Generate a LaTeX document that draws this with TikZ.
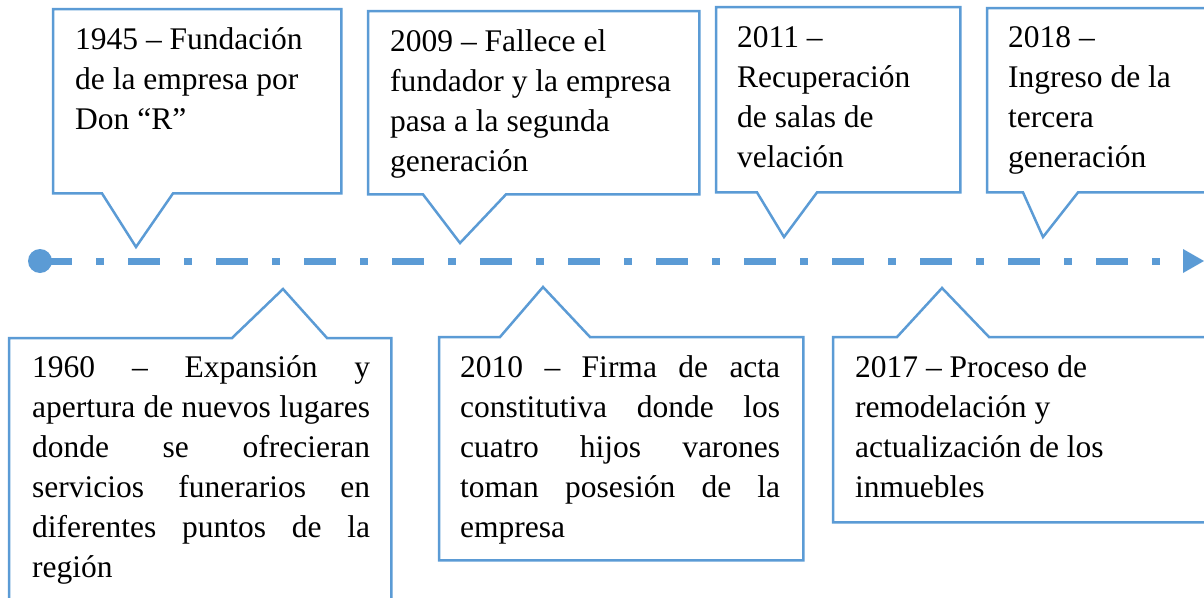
\documentclass[tikz,border=0pt]{standalone}
\usepackage{fontspec}
\setmainfont{Liberation Serif}
\usetikzlibrary{arrows.meta}
\definecolor{lineblue}{HTML}{5B9BD5}

\tikzstyle{frame} = [rectangle, inner sep=0pt, anchor=north west]
\tikzstyle{callout} = [draw=lineblue, line width=2.5pt, line join=miter]
\tikzstyle{entry} = [inner sep=0pt, anchor=base west, font=\fontsize{31.5}{40}\selectfont]
\tikzstyle{timeline} = [draw=lineblue, line width=7pt, dash pattern=on 32pt off 24pt on 8pt off 24pt, -{Triangle[length=21pt,width=24pt,line width=0pt]}]

\begin{document}
\begin{tikzpicture}[x=1pt, y=-1pt]
        \useasboundingbox (0,0) rectangle (1204,597);
        % time line
        \node[circle, fill=lineblue, minimum size=24pt, inner sep=0pt] (origin) at (40,261) {};
        \coordinate (finish) at (1204,261);
        \draw[timeline] (origin.center) -- (finish);
        % boxes above
        \node[frame, minimum width=288pt, minimum height=184pt] (b1945) at (53,9) {};
        \node[frame, minimum width=331pt, minimum height=183pt] (b2009) at (368,11) {};
        \node[frame, minimum width=244pt, minimum height=185pt] (b2011) at (716,7) {};
        \node[frame, minimum width=240pt, minimum height=184pt] (b2018) at (987,8) {};
        \coordinate (p1945) at (136,247);
        \coordinate (p2009) at (460,243);
        \coordinate (p2011) at (784,237);
        \coordinate (p2018) at (1043,237);
        \draw[callout] (b1945.south west) -- (b1945.north west) -- (b1945.north east) -- (b1945.south east) -- ([xshift=120pt]b1945.south west) -- (p1945) -- ([xshift=49pt]b1945.south west) -- cycle;
        \draw[callout] (b2009.south west) -- (b2009.north west) -- (b2009.north east) -- (b2009.south east) -- ([xshift=138pt]b2009.south west) -- (p2009) -- ([xshift=55pt]b2009.south west) -- cycle;
        \draw[callout] (b2011.south west) -- (b2011.north west) -- (b2011.north east) -- (b2011.south east) -- ([xshift=101pt]b2011.south west) -- (p2011) -- ([xshift=41pt]b2011.south west) -- cycle;
        \draw[callout] (b2018.south west) -- (b2018.north west) -- (b2018.north east) -- (b2018.south east) -- ([xshift=91pt]b2018.south west) -- (p2018) -- ([xshift=36pt]b2018.south west) -- cycle;
        % boxes below
        \node[frame, minimum width=382pt, minimum height=280pt] (b1960) at (9,338) {};
        \node[frame, minimum width=364pt, minimum height=223pt] (b2010) at (439,337) {};
        \node[frame, minimum width=390pt, minimum height=185pt] (b2017) at (833,337) {};
        \coordinate (p1960) at (283,289);
        \coordinate (p2010) at (543,287);
        \coordinate (p2017) at (942,288);
        \draw[callout] (b1960.north west) -- ([xshift=223pt]b1960.north west) -- (p1960) -- ([xshift=318pt]b1960.north west) -- (b1960.north east) -- (b1960.south east) -- (b1960.south west) -- cycle;
        \draw[callout] (b2010.north west) -- ([xshift=61pt]b2010.north west) -- (p2010) -- ([xshift=151pt]b2010.north west) -- (b2010.north east) -- (b2010.south east) -- (b2010.south west) -- cycle;
        \draw[callout] (b2017.north west) -- ([xshift=64pt]b2017.north west) -- (p2017) -- ([xshift=156pt]b2017.north west) -- (b2017.north east) -- (b2017.south east) -- (b2017.south west) -- cycle;
        % texts
        \node[entry] (t1945) at (75,49) {\parbox[t]{260pt}{\raggedright 1945 – Fundación\\de la empresa por\\Don “R”}};
        \node[entry] (t2009) at (390,51) {\parbox[t]{300pt}{\raggedright 2009 – Fallece el\\fundador y la empresa\\pasa a la segunda\\generación}};
        \node[entry] (t2011) at (737,47) {\parbox[t]{210pt}{\raggedright 2011 –\\Recuperación\\de salas de\\velación}};
        \node[entry] (t2018) at (1008,47) {\parbox[t]{190pt}{\raggedright 2018 –\\Ingreso de la\\tercera\\generación}};
        \node[entry] (t1960) at (32,377) {\parbox[t]{338pt}{\tolerance=10000\hyphenpenalty=10000 1960 – Expansión y\linebreak apertura de nuevos lugares\linebreak donde se ofrecieran\linebreak servicios funerarios en\linebreak diferentes puntos de la\linebreak región}};
        \node[entry] (t2010) at (460,377) {\parbox[t]{320pt}{\tolerance=10000\hyphenpenalty=10000 2010 – Firma de acta\linebreak constitutiva donde los\linebreak cuatro hijos varones\linebreak toman posesión de la\linebreak empresa}};
        \node[entry] (t2017) at (855,377) {\parbox[t]{330pt}{\raggedright 2017 – Proceso de\\remodelación y\\actualización de los\\inmuebles}};
\end{tikzpicture}
\end{document}
